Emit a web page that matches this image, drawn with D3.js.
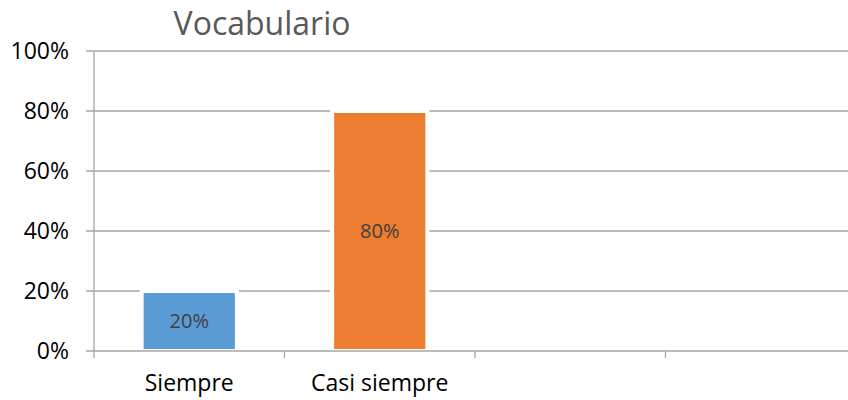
<!DOCTYPE html>
<html>
<head>
<meta charset="utf-8">
<script src="https://cdn.jsdelivr.net/npm/d3@7.9.0/dist/d3.min.js"></script>
<style>
  body { margin: 0; background: #fff; }
  svg { display: block; font-family: "Open Sans", sans-serif; }
</style>
</head>
<body>
<svg id="chart" width="848" height="400"></svg>
<script>
const title = "Vocabulario";
const categories = ["Siempre", "Casi siempre", "", ""];
const values = [0.2, 0.8, null, null];
const colors = ["#5b9bd5", "#ed7d31", "#a5a5a5", "#ffc000"];
const yTicks = [0, 0.2, 0.4, 0.6, 0.8, 1];

const svg = d3.select("#chart");
const margin = { top: 51, right: -8, bottom: 49, left: 94 };
const width = 848 - margin.left - margin.right;
const height = 400 - margin.top - margin.bottom;

const g = svg.append("g").attr("transform", `translate(${margin.left},${margin.top})`);

const x = d3.scaleBand()
    .domain(d3.range(categories.length))
    .range([0, width])
    .paddingInner(0.5)
    .paddingOuter(0.25);

const y = d3.scaleLinear().domain([0, 1]).range([height, 0]);

const fmt = d3.format(".0%");
const gridColor = "#a6a6a6";

// gridlines
g.selectAll(".grid")
    .data(yTicks.filter(d => d > 0))
    .enter().append("line")
    .attr("class", "grid")
    .attr("x1", -8)
    .attr("x2", width)
    .attr("y1", d => y(d))
    .attr("y2", d => y(d))
    .attr("stroke", gridColor)
    .attr("stroke-width", 1.3);

// y labels
g.selectAll(".ylab")
    .data(yTicks)
    .enter().append("text")
    .attr("class", "ylab")
    .attr("x", -25)
    .attr("y", d => y(d))
    .attr("dy", "0.36em")
    .attr("text-anchor", "end")
    .style("font-size", "23px")
    .attr("fill", "#000")
    .text(d => fmt(d));

// bars
const barData = values.map((v, i) => ({ i, v })).filter(d => d.v != null);

g.selectAll(".bar")
    .data(barData)
    .enter().append("rect")
    .attr("class", "bar")
    .attr("x", d => x(d.i))
    .attr("y", d => y(d.v))
    .attr("width", x.bandwidth())
    .attr("height", d => y(0) - y(d.v))
    .attr("fill", d => colors[d.i])
    .attr("stroke", "#fff")
    .attr("stroke-width", 4);

g.selectAll(".vlab")
    .data(barData)
    .enter().append("text")
    .attr("class", "vlab")
    .attr("x", d => x(d.i) + x.bandwidth() / 2)
    .attr("y", d => (y(d.v) + y(0)) / 2)
    .attr("dy", "0.36em")
    .attr("text-anchor", "middle")
    .style("font-size", "20px")
    .attr("fill", "#404040")
    .text(d => fmt(d.v));

// axes lines
g.append("line")
    .attr("x1", -8).attr("x2", width)
    .attr("y1", y(0)).attr("y2", y(0))
    .attr("stroke", gridColor).attr("stroke-width", 1.3);

g.append("line")
    .attr("x1", 0).attr("x2", 0)
    .attr("y1", 0).attr("y2", height + 7)
    .attr("stroke", gridColor).attr("stroke-width", 1.3);

// category boundary ticks
const half = x.step() * x.paddingInner() / 2;
g.selectAll(".xtick")
    .data(d3.range(1, categories.length + 1))
    .enter().append("line")
    .attr("class", "xtick")
    .attr("x1", i => (i < categories.length ? x(i) - half : width))
    .attr("x2", i => (i < categories.length ? x(i) - half : width))
    .attr("y1", height)
    .attr("y2", height + 7)
    .attr("stroke", gridColor)
    .attr("stroke-width", 1.3);

// category labels
g.selectAll(".xlab")
    .data(categories.map((c, i) => ({ c, i })))
    .enter().append("text")
    .attr("class", "xlab")
    .attr("x", d => x(d.i) + x.bandwidth() / 2)
    .attr("y", height + 40)
    .attr("text-anchor", "middle")
    .style("font-size", "23px")
    .attr("fill", "#000")
    .text(d => d.c);

// title
svg.append("text")
    .attr("x", 262)
    .attr("y", 35)
    .attr("text-anchor", "middle")
    .style("font-size", "32px")
    .attr("fill", "#595959")
    .text(title);
</script>
</body>
</html>
